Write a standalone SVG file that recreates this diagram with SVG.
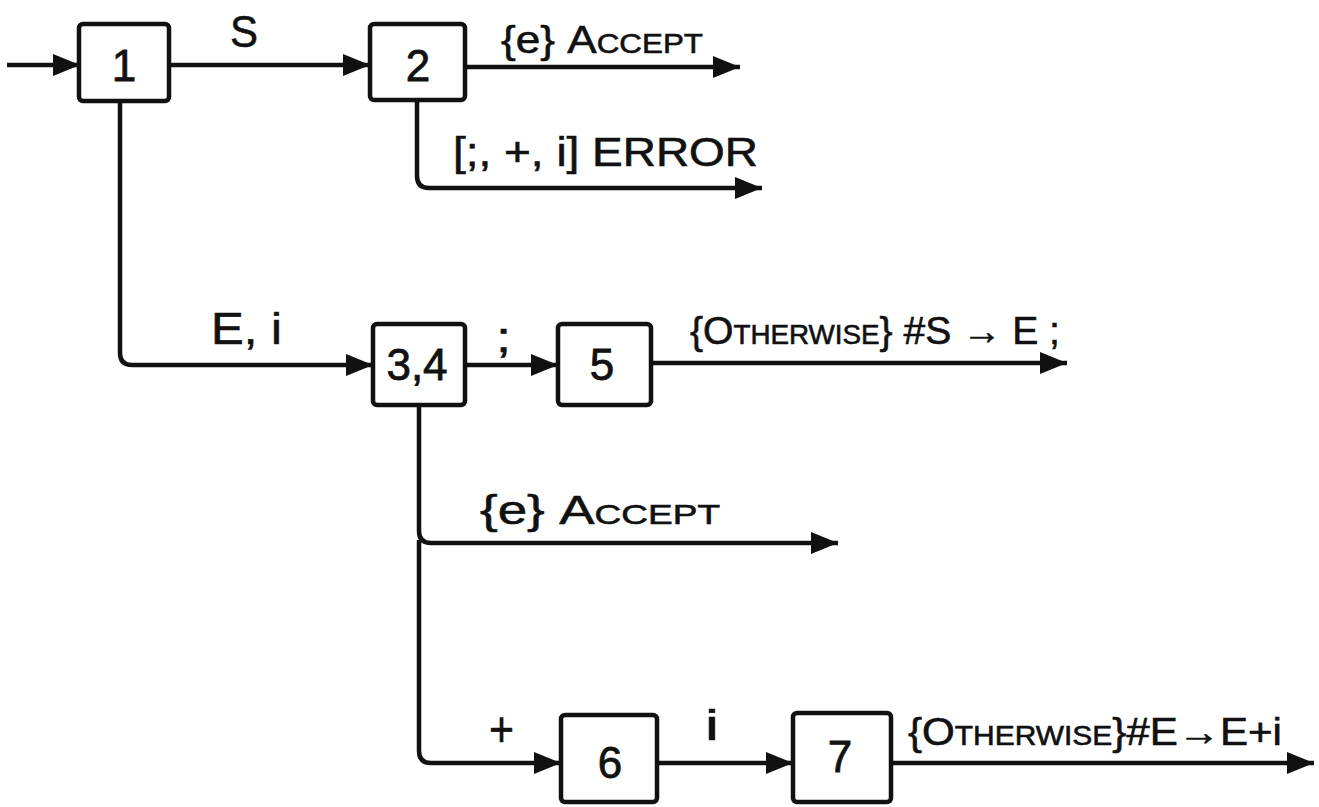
<svg xmlns="http://www.w3.org/2000/svg" width="1319" height="807" viewBox="0 0 1319 807">
  <style>
    .node rect { fill: #ffffff; stroke: #111111; stroke-width: 4.5; }
    .node text { font-family: "Liberation Sans", "DejaVu Sans", sans-serif; font-size: 44px; fill: #111111; text-anchor: middle; stroke: #111111; stroke-width: 0.8; }
    .edge { fill: none; stroke: #111111; stroke-width: 4.5; stroke-linejoin: round; }
    .lbl { font-family: "Liberation Sans", "DejaVu Sans", sans-serif; fill: #111111; stroke: #111111; stroke-width: 0.6; }
    .sc { font-variant: small-caps; }
  </style>
  <defs>
    <marker id="arrow" markerUnits="userSpaceOnUse" markerWidth="30" markerHeight="26" refX="27" refY="13" orient="auto">
      <path d="M0,2 L27,13 L0,24 Z" fill="#111111"/>
    </marker>
  </defs>
  <rect x="0" y="0" width="1319" height="807" fill="#ffffff"/>

  <g id="connectors">
    <path class="edge" d="M7,65 H80" marker-end="url(#arrow)"/>
    <path class="edge" d="M169,65 H370" marker-end="url(#arrow)"/>
    <path class="edge" d="M465,67 H740" marker-end="url(#arrow)"/>
    <path class="edge" d="M417,100 V176 Q417,188 429,188 H762" marker-end="url(#arrow)"/>
    <path class="edge" d="M120,101 V353 Q120,365 132,365 H373" marker-end="url(#arrow)"/>
    <path class="edge" d="M465,365 H558" marker-end="url(#arrow)"/>
    <path class="edge" d="M651,363 H1067" marker-end="url(#arrow)"/>
    <path class="edge" d="M419,405 V531 Q419,543 431,543 H838" marker-end="url(#arrow)"/>
    <path class="edge" d="M419,540 V751 Q419,763 431,763 H561" marker-end="url(#arrow)"/>
    <path class="edge" d="M657,763 H793" marker-end="url(#arrow)"/>
    <path class="edge" d="M891,763 H1314" marker-end="url(#arrow)"/>
  </g>

  <g id="edge-labels">
    <text class="lbl" x="230" y="47" font-size="44" textLength="28" lengthAdjust="spacingAndGlyphs">S</text>
    <text class="lbl" x="501" y="53" font-size="38" textLength="202" lengthAdjust="spacingAndGlyphs">{e} <tspan class="sc">Accept</tspan></text>
    <text class="lbl" x="453" y="166" font-size="40" textLength="305" lengthAdjust="spacingAndGlyphs">[;, +, i] ERROR</text>
    <text class="lbl" x="211" y="344" font-size="44" textLength="71" lengthAdjust="spacingAndGlyphs">E, i</text>
    <text class="lbl" x="496" y="352" font-size="42" textLength="15" lengthAdjust="spacingAndGlyphs">;</text>
    <text class="lbl" x="690" y="344" font-size="38" textLength="370" lengthAdjust="spacingAndGlyphs">{<tspan class="sc">Otherwise</tspan>} #S → E ;</text>
    <text class="lbl" x="480" y="524" font-size="40" textLength="240" lengthAdjust="spacingAndGlyphs">{e} <tspan class="sc">Accept</tspan></text>
    <text class="lbl" x="489" y="746" font-size="50" textLength="25" lengthAdjust="spacingAndGlyphs">+</text>
    <text class="lbl" x="705" y="740" font-size="42" textLength="14" lengthAdjust="spacingAndGlyphs">i</text>
    <text class="lbl" x="908" y="745" font-size="38" textLength="374" lengthAdjust="spacingAndGlyphs">{<tspan class="sc">Otherwise</tspan>}#E→E+i</text>
  </g>

  <g id="node-1" class="node">
    <rect x="79" y="24" width="90" height="77" rx="4"/>
    <text x="124" y="81">1</text>
  </g>
  <g id="node-2" class="node">
    <rect x="370" y="24" width="95" height="76" rx="4"/>
    <text x="418" y="81">2</text>
  </g>
  <g id="node-3-4" class="node">
    <rect x="373" y="324" width="92" height="81" rx="4"/>
    <text x="417" y="380">3,4</text>
  </g>
  <g id="node-5" class="node">
    <rect x="558" y="324" width="93" height="81" rx="4"/>
    <text x="602" y="380">5</text>
  </g>
  <g id="node-6" class="node">
    <rect x="561" y="715" width="96" height="87" rx="4"/>
    <text x="610" y="778">6</text>
  </g>
  <g id="node-7" class="node">
    <rect x="793" y="713" width="98" height="89" rx="4"/>
    <text x="840" y="772">7</text>
  </g>
</svg>
